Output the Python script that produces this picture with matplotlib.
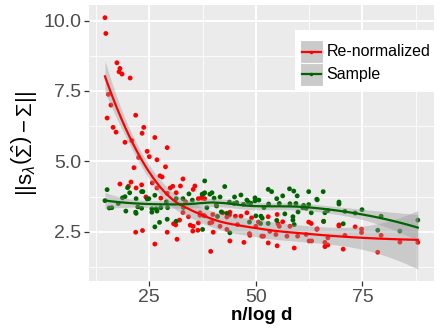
import numpy as np
import matplotlib
matplotlib.use("Agg")
import matplotlib.pyplot as plt
from matplotlib.patches import Rectangle
from matplotlib.lines import Line2D

plt.rcParams['font.family'] = ['Liberation Sans', 'DejaVu Sans']
plt.rcParams['mathtext.fontset'] = 'custom'
plt.rcParams['mathtext.rm'] = 'Liberation Sans'
plt.rcParams['mathtext.it'] = 'Liberation Sans:italic'
plt.rcParams['mathtext.bf'] = 'Liberation Sans:bold'

red_x = [14.6, 14.8, 17.4, 18.1, 17.9, 18.6, 20.5, 15.1, 21.8, 16.5, 23.7, 15.4, 16.0,
         17.2, 23.3, 19.3, 20.9, 26.3, 29.2, 24.5, 25.0, 22.5, 26.8, 21.4, 28.8, 27.5,
         28.0, 32.9, 20.7, 18.1, 23.2, 20.1, 21.9, 25.7, 26.8, 30.5, 29.9, 32.3, 35.7,
         35.3, 31.3, 29.2, 27.7, 24.2, 36.5, 37.4, 33.5, 32.9, 34.2, 32.1, 30.7, 31.2,
         34.6, 35.3, 36.4, 35.2, 29.2, 21.8, 23.4, 31.5, 26.3, 36.9, 37.7, 36.5,
         37.2, 38.0, 36.9, 38.0, 39.2, 39.7, 39.9, 40.0, 39.4, 40.7, 41.6, 42.2, 43.2,
         43.2, 43.9, 43.9, 43.8, 45.2, 45.7, 46.5, 47.2, 47.9, 48.5, 48.6, 49.0, 50.0,
         50.6, 51.4, 51.8, 52.9, 52.9, 53.3, 55.0, 55.0, 55.2, 55.5, 56.3, 54.7, 57.3,
         58.0, 59.0, 59.8, 61.8, 62.4, 63.0, 62.5, 63.1, 64.3,
         64.4, 65.9, 66.9, 66.2, 66.9, 66.2, 69.5, 69.5, 70.9, 70.5, 73.3, 74.8, 74.8,
         79.4, 78.6, 83.8, 88.0]
red_y = [10.1, 9.54, 8.5, 8.3, 8.18, 8.1, 7.96, 6.54, 6.64, 6.21, 6.21, 7.38, 7.0,
         6.04, 6.0, 5.68, 5.74, 5.85, 5.49, 5.36, 5.17, 5.14, 5.06, 4.78, 4.81, 4.49,
         4.45, 4.38, 4.27, 4.2, 4.17, 4.12, 4.06, 4.24, 4.06, 4.12, 4.06, 4.13, 4.13,
         4.01, 3.89, 3.87, 3.70, 3.74, 3.68, 3.70, 3.57, 3.19, 3.04, 2.92, 2.79, 2.75,
         2.74, 2.70, 2.56, 2.53, 2.49, 2.49, 2.55, 2.24, 2.07, 3.18, 3.09, 2.82,
         3.71, 3.68, 3.09, 3.07, 2.82, 2.84, 3.12, 2.49, 1.81, 3.44, 2.70, 3.18, 3.03,
         2.59, 2.18, 3.2, 3.1, 3.06, 2.76, 3.06, 2.13, 3.18, 2.44, 2.38, 3.0, 2.70,
         2.85, 2.35, 2.35, 3.04, 2.11, 2.52, 3.12, 2.01, 2.79, 2.70, 2.86, 2.41, 2.35,
         2.70, 1.93, 2.35, 2.41, 2.85, 2.80, 2.18, 2.18, 2.59,
         2.61, 2.87, 2.29, 2.13, 2.04, 1.98, 2.75, 2.71, 2.38, 1.89, 2.68, 2.60, 2.48,
         2.38, 1.78, 2.14, 2.13]

green_x = [15.1, 14.6, 15.6, 16.2, 17.7, 18.7, 19.3, 19.9, 20.4, 19.5, 21.8, 21.9, 21.9,
           22.3, 23.2, 23.5, 23.2, 24.5, 24.9, 25.6, 25.6, 26.6, 26.8, 26.3, 27.7, 27.4,
           26.3, 29.2, 29.3, 29.0, 31.3, 31.3, 32.9, 34.3, 35.1, 33.0, 37.4,
           38.0, 37.7, 38.0, 39.2, 39.7, 40.2, 41.6, 42.7, 38.5, 40.8, 41.9, 41.0, 43.2,
           43.8, 45.0, 44.9, 45.5, 46.5, 47.1, 47.9, 48.2, 48.8, 49.8, 49.8, 50.7, 50.0,
           51.2, 51.5, 51.1, 52.9, 51.9, 52.9, 53.7, 53.0, 54.9, 55.5, 56.3, 54.9, 56.8,
           57.9, 58.9, 59.7, 58.0, 59.4, 58.7, 58.7, 59.0, 61.2, 61.0, 59.9, 61.8, 62.4,
           62.4, 63.0, 64.3, 37.5, 43.9, 48.5,
           65.8, 64.4, 69.5, 69.5, 66.2, 66.9, 65.9, 70.5, 70.9, 73.3, 74.9, 79.4, 78.6,
           83.8, 88.0]
green_y = [4.0, 3.61, 3.35, 3.36, 3.51, 3.71, 3.75, 4.07, 3.89, 3.24, 3.2, 3.16, 3.68,
           3.39, 3.93, 3.93, 3.34, 3.67, 3.68, 3.32, 3.2, 3.32, 3.24, 3.8, 3.36, 2.84,
           2.68, 2.95, 3.36, 3.57, 3.68, 2.88, 3.68, 3.85, 3.63, 3.37, 3.84,
           4.31, 3.85, 3.89, 3.84, 3.89, 3.7, 3.74, 4.11, 3.36, 3.42, 3.21, 3.05, 3.16,
           3.56, 3.74, 3.51, 3.54, 3.81, 3.48, 3.63, 3.56, 3.52, 3.71, 3.6, 3.63, 3.07,
           3.06, 2.99, 2.80, 2.8, 3.36, 4.01, 3.93, 3.49, 3.68, 3.51, 3.78, 2.91, 3.14,
           4.03, 3.95, 3.78, 3.50, 3.51, 3.04, 2.92, 2.76, 3.44, 3.36, 3.21, 3.34, 3.93,
           3.47, 3.18, 3.66, 2.59, 2.47, 2.85,
           3.93, 3.64, 3.56, 3.49, 3.18, 3.26, 2.88, 2.79, 3.23, 3.17, 3.29, 3.06, 2.56,
           2.53, 2.92]

labels = ["Re-normalized", "Sample"]
colors = ["#FF0000", "#006400"]


def loess(x, y, grid, span=0.75):
    # local quadratic fit with tricube weights, like R's loess
    x = np.asarray(x, float)
    y = np.asarray(y, float)
    n = len(x)
    q = int(np.floor(n * span))

    def rows(pts):
        L = np.zeros((len(pts), n))
        for k, x0 in enumerate(pts):
            d = np.abs(x - x0)
            h = np.sort(d)[q - 1]
            w = np.clip(1 - (d / h) ** 3, 0, None) ** 3
            X = np.column_stack([np.ones(n), x - x0, (x - x0) ** 2])
            XtW = X.T * w
            L[k] = np.linalg.solve(XtW @ X, XtW)[0]
        return L

    Lg = rows(grid)
    Ld = rows(x)
    fit = Lg @ y
    res = y - Ld @ y
    M = np.eye(n) - Ld
    d1 = np.trace(M.T @ M)
    sigma = np.sqrt(res @ res / d1)
    se = sigma * np.sqrt((Lg ** 2).sum(axis=1))
    return fit, fit - 1.97 * se, fit + 1.97 * se


fig = plt.figure(figsize=(4.4, 3.31), dpi=100)
ax = fig.add_axes([89 / 440, 1 - 281 / 331, 345 / 440, 276 / 331])
ax.set_facecolor("#EBEBEB")
for s in ax.spines.values():
    s.set_visible(False)

ax.scatter(red_x + green_x, red_y + green_y,
           c=[colors[0]] * len(red_x) + [colors[1]] * len(green_x),
           s=12, linewidths=0, zorder=2)

for xs, ys, col in [(red_x, red_y, colors[0]), (green_x, green_y, colors[1])]:
    grid = np.linspace(min(xs), max(xs), 80)
    fit, lo, hi = loess(xs, ys, grid)
    ax.fill_between(grid, lo, hi, color="#999999", alpha=0.4, lw=0, zorder=3)
    ax.plot(grid, fit, color=col, lw=1.6, zorder=4)

ax.set_xlim(10.85, 91.8)
ax.set_ylim(0.76, 10.55)
ax.set_xticks([25, 50, 75])
ax.set_xticks([12.5, 37.5, 62.5, 87.5], minor=True)
ax.set_yticks([2.5, 5.0, 7.5, 10.0])
ax.set_yticklabels(["2.5", "5.0", "7.5", "10.0"])
ax.set_yticks([1.25, 3.75, 6.25, 8.75], minor=True)
ax.grid(which="major", color="white", lw=1.3, zorder=0)
ax.grid(which="minor", color="white", lw=0.6, zorder=0)
ax.set_axisbelow(True)
ax.tick_params(which="major", length=3.5, width=0.9, color="#333333",
               labelsize=14, labelcolor="#4D4D4D", pad=2)
ax.tick_params(which="minor", length=0)

ax.set_xlabel("n/log d", fontsize=13.5, fontweight="bold", labelpad=1)
ax.set_ylabel(r"$||\mathrm{s}_{\lambda}\left(\hat{\Sigma}\right) - \Sigma||$",
              fontsize=16, labelpad=3)

# legend box inside the panel
ax.add_patch(Rectangle((0.597, 0.692), 0.403, 0.217, transform=ax.transAxes,
                       facecolor="white", edgecolor="none", zorder=5))
for i, (lab, col) in enumerate(zip(labels, colors)):
    y0 = 0.790 - i * 0.083
    ax.add_patch(Rectangle((0.6116, y0), 0.0654, 0.083, transform=ax.transAxes,
                           facecolor="#CBCBCB", edgecolor="white", lw=0.8, zorder=6))
    ax.add_line(Line2D([0.617, 0.672], [y0 + 0.0415] * 2, transform=ax.transAxes,
                       color=col, lw=1.6, zorder=7))
    ax.add_line(Line2D([0.6443], [y0 + 0.0415], transform=ax.transAxes, marker="o",
                       ms=2.5, color=col, mew=0, zorder=7))
    ax.text(0.689, y0 + 0.0415, lab, transform=ax.transAxes, fontsize=11.5,
            va="center", ha="left", zorder=7)

fig.savefig("out.png", dpi=100)
